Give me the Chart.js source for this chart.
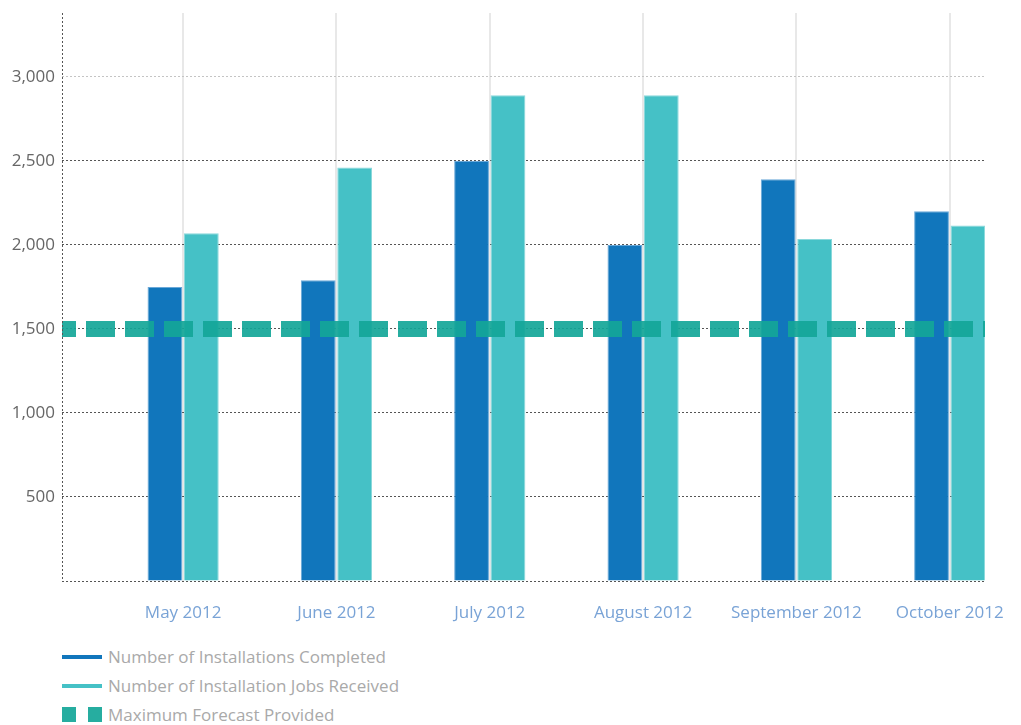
<!DOCTYPE html>
<html>
<head>
<meta charset="utf-8">
<script src="https://cdn.jsdelivr.net/npm/chart.js@4/dist/chart.umd.min.js"></script>
<style>
  body { margin: 0; background: #fff; font-family: "Open Sans", sans-serif; }
  #wrap { position: relative; width: 1021px; height: 630px; }
  #legend { position: absolute; left: 62px; top: 642px; }
  .item { display: flex; align-items: center; height: 29px; color: #a9a9a9; font-size: 17px; }
  .swatch { width: 40px; margin-right: 6px; display: flex; justify-content: space-between; }
</style>
</head>
<body>
<div id="wrap"><canvas id="chart"></canvas></div>
<div id="legend"></div>
<script>
const months = ["May 2012", "June 2012", "July 2012", "August 2012", "September 2012", "October 2012"];
const completed = [1750, 1790, 2500, 2000, 2390, 2200];
const received = [2070, 2460, 2890, 2890, 2035, 2115];
const forecastMax = 1500;
const yTicks = [0, 500, 1000, 1500, 2000, 2500, 3000];

// x range is a little wider than the months, like the original layout
const X_MIN = -0.79;
const X_MAX = 5.23;
const Y_MAX = 3380;

const fmt = v => v.toLocaleString("en-US");

// dotted y axis line on the left of the plot
const leftAxis = {
  id: "leftAxis",
  afterDraw(chart) {
    const { ctx, chartArea } = chart;
    ctx.save();
    ctx.strokeStyle = "#555";
    ctx.lineWidth = 1;
    ctx.setLineDash([2, 2]);
    ctx.beginPath();
    ctx.moveTo(chartArea.left + 0.5, chartArea.top);
    ctx.lineTo(chartArea.left + 0.5, chartArea.bottom);
    ctx.stroke();
    ctx.restore();
  }
};

const chart = new Chart(document.getElementById("chart"), {
  type: "bar",
  data: {
    datasets: [
      {
        label: "Number of Installations Completed",
        data: completed.map((v, i) => ({ x: i, y: v })),
        backgroundColor: "#1176bc",
        borderColor: "#6aa8d8",
        borderWidth: 1,
        categoryPercentage: 0.475,
        barPercentage: 0.955,
        order: 1,
      },
      {
        label: "Number of Installation Jobs Received",
        data: received.map((v, i) => ({ x: i, y: v })),
        backgroundColor: "#45c1c6",
        borderColor: "#8ad8db",
        borderWidth: 1,
        categoryPercentage: 0.475,
        barPercentage: 0.955,
        order: 1,
      },
      {
        type: "line",
        label: "Maximum Forecast Provided",
        data: [{ x: X_MIN, y: forecastMax }, { x: X_MAX, y: forecastMax }],
        borderColor: "rgba(20, 166, 152, 0.92)",
        backgroundColor: "rgba(20, 166, 152, 0.92)",
        borderWidth: 16,
        borderDash: [29, 10],
        borderDashOffset: 15,
        borderCapStyle: "butt",
        pointRadius: 0,
        fill: false,
        order: 0,
      },
    ],
  },
  options: {
    responsive: true,
    maintainAspectRatio: false,
    animation: false,
    layout: { padding: { top: 13, right: 36, left: 0, bottom: 0 } },
    plugins: { legend: { display: false }, tooltip: { enabled: false } },
    scales: {
      x: {
        type: "linear",
        min: X_MIN,
        max: X_MAX,
        offset: false,
        afterBuildTicks: scale => { scale.ticks = months.map((m, i) => ({ value: i })); },
        afterFit: scale => {
          scale.height = 49;
          scale.paddingLeft = 0;
          scale.paddingRight = 0;
        },
        grid: { color: "#e8e8e8", lineWidth: 2, drawTicks: false, offset: false },
        border: { display: false },
        ticks: {
          callback: v => months[v],
          color: "#79a3d6",
          font: { family: "Open Sans", size: 17 },
          padding: 22,
          maxRotation: 0,
          autoSkip: false,
        },
      },
      y: {
        min: 0,
        max: Y_MAX,
        afterBuildTicks: scale => { scale.ticks = yTicks.map(v => ({ value: v })); },
        afterFit: scale => {
          scale.width = 62;
          scale.paddingTop = 0;
          scale.paddingBottom = 0;
        },
        grid: {
          color: ctx => (ctx.tick && ctx.tick.value === 3000 ? "#c4c4c4" : "#555"),
          lineWidth: 1,
          drawTicks: false,
        },
        border: { display: false, dash: [2, 2] },
        ticks: {
          callback: v => (v === 0 ? "" : fmt(v)),
          color: "#666",
          font: { family: "Open Sans", size: 17 },
          padding: 7,
        },
      },
    },
  },
  plugins: [leftAxis],
});

// legend built from the datasets
const legend = document.getElementById("legend");
chart.data.datasets.forEach(ds => {
  const item = document.createElement("div");
  item.className = "item";
  const sw = document.createElement("div");
  sw.className = "swatch";
  if (ds.type === "line") {
    for (let k = 0; k < 2; k++) {
      const sq = document.createElement("div");
      sq.style.cssText = "width:14px;height:15px;background:" + ds.borderColor;
      sw.appendChild(sq);
    }
  } else {
    const bar = document.createElement("div");
    bar.style.cssText = "width:40px;height:4px;background:" + ds.backgroundColor;
    sw.appendChild(bar);
  }
  const txt = document.createElement("span");
  txt.textContent = ds.label;
  item.appendChild(sw);
  item.appendChild(txt);
  legend.appendChild(item);
});
</script>
</body>
</html>
